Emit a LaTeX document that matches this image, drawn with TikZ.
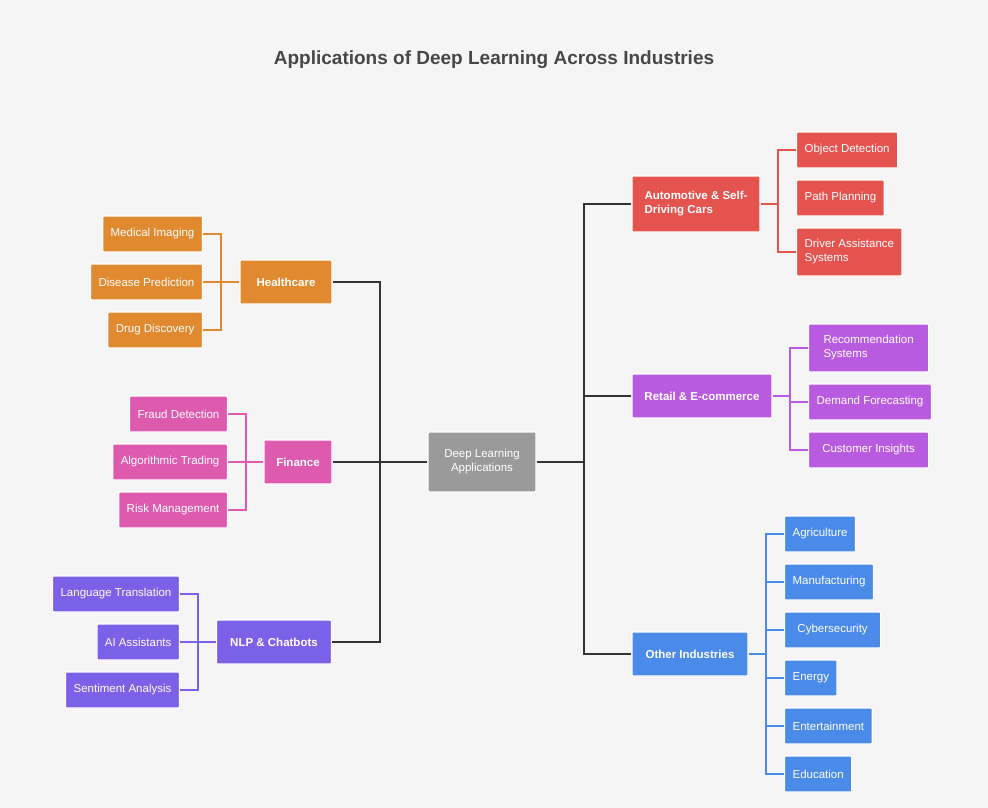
\documentclass[tikz,border=0pt]{standalone}
\usepackage{fontspec}
\setmainfont{Liberation Sans}
\definecolor{bgc}{HTML}{F5F5F5}
\definecolor{hcc}{HTML}{E0892F}
\definecolor{fic}{HTML}{DE5AAE}
\definecolor{nlc}{HTML}{7B61E8}
\definecolor{auc}{HTML}{E5534F}
\definecolor{rec}{HTML}{B95BE0}
\definecolor{otc}{HTML}{4A8AE8}
\definecolor{grc}{HTML}{9A9A9A}
\definecolor{lnc}{HTML}{333333}
\tikzset{
  box/.style={draw=white, line width=1.2pt, rounded corners=1pt, text=white,
    font=\fontsize{11.5}{14}\selectfont, minimum height=36pt, inner xsep=8pt, inner ysep=6pt, align=left},
  cat/.style={box, minimum height=44pt, font=\fontsize{11.5}{14}\selectfont\bfseries},
  link/.style={line width=1.5pt}
}
\begin{document}
\begin{tikzpicture}[x=1pt,y=-1pt]
\fill[bgc] (0,0) rectangle (988,808);
\node[font=\fontsize{19}{22}\selectfont\bfseries, text=lnc!90] (title) at (494,60) {Applications of Deep Learning Across Industries};
% center
\node[box, fill=grc, minimum width=108pt, minimum height=60pt, align=center] (dl) at (482,462) {Deep Learning\\Applications};
% healthcare
\node[cat, fill=hcc, minimum width=92pt] (hc) at (286,282) {Healthcare};
\node[box, fill=hcc, anchor=east] (mi) at (203,234) {Medical Imaging};
\node[box, fill=hcc, anchor=east] (dp) at (203,282) {Disease Prediction};
\node[box, fill=hcc, anchor=east] (dd) at (203,330) {Drug Discovery};
\draw[link, hcc] (mi.east) -- (221,234) -- (221,330) -- (dd.east);
\draw[link, hcc] (dp.east) -- (hc.west);
% finance
\node[cat, fill=fic, minimum width=68pt] (fi) at (298,462) {Finance};
\node[box, fill=fic, anchor=east] (fd) at (228,414) {Fraud Detection};
\node[box, fill=fic, anchor=east] (at) at (228,462) {Algorithmic Trading};
\node[box, fill=fic, anchor=east] (rm) at (228,510) {Risk Management};
\draw[link, fic] (fd.east) -- (246,414) -- (246,510) -- (rm.east);
\draw[link, fic] (at.east) -- (fi.west);
% nlp
\node[cat, fill=nlc, minimum width=115pt] (nl) at (274,642) {NLP \& Chatbots};
\node[box, fill=nlc, anchor=east] (lt) at (180,594) {Language Translation};
\node[box, fill=nlc, anchor=east] (ai) at (180,642) {AI Assistants};
\node[box, fill=nlc, anchor=east] (sa) at (180,690) {Sentiment Analysis};
\draw[link, nlc] (lt.east) -- (198,594) -- (198,690) -- (sa.east);
\draw[link, nlc] (ai.east) -- (nl.west);
% left trunk
\draw[link, lnc] (hc.east) -- (380,282) -- (380,642) -- (nl.east);
\draw[link, lnc] (fi.east) -- (dl.west);
% automotive
\node[cat, fill=auc, minimum width=128pt, minimum height=56pt] (au) at (696,204) {Automotive \& Self-\\Driving Cars};
\node[box, fill=auc, anchor=west] (od) at (796,150) {Object Detection};
\node[box, fill=auc, anchor=west] (pp) at (796,198) {Path Planning};
\node[box, fill=auc, anchor=west, minimum height=48pt] (da) at (796,252) {Driver Assistance\\Systems};
\draw[link, auc] (od.west) -- (778,150) -- (778,252) -- (da.west);
\draw[link, auc] (au.east) -- (778,204);
% retail
\node[cat, fill=rec, minimum width=140pt] (re) at (702,396) {Retail \& E-commerce};
\node[box, fill=rec, anchor=west, minimum height=48pt, minimum width=120pt] (rs) at (808,348) {Recommendation\\Systems};
\node[box, fill=rec, anchor=west] (df) at (808,402) {Demand Forecasting};
\node[box, fill=rec, anchor=west, minimum width=120pt] (ci) at (808,450) {Customer Insights};
\draw[link, rec] (rs.west) -- (790,348) -- (790,450) -- (ci.west);
\draw[link, rec] (re.east) -- (790,396);
\draw[link, rec] (df.west) -- (790,402);
% other
\node[cat, fill=otc, minimum width=116pt] (ot) at (690,654) {Other Industries};
\node[box, fill=otc, anchor=west] (ag) at (784,534) {Agriculture};
\node[box, fill=otc, anchor=west] (ma) at (784,582) {Manufacturing};
\node[box, fill=otc, anchor=west, minimum width=96pt] (cy) at (784,630) {Cybersecurity};
\node[box, fill=otc, anchor=west] (en) at (784,678) {Energy};
\node[box, fill=otc, anchor=west] (et) at (784,726) {Entertainment};
\node[box, fill=otc, anchor=west] (ed) at (784,774) {Education};
\draw[link, otc] (ag.west) -- (766,534) -- (766,774) -- (ed.west);
\foreach \n in {ma,cy,en,et} \draw[link, otc] (\n.west) -- (766,0 |- \n.west);
\draw[link, otc] (ot.east) -- (766,654);
% right trunk
\draw[link, lnc] (au.west) -- (584,204) -- (584,654) -- (ot.west);
\draw[link, lnc] (re.west) -- (584,396);
\draw[link, lnc] (dl.east) -- (584,462);
\end{tikzpicture}
\end{document}
